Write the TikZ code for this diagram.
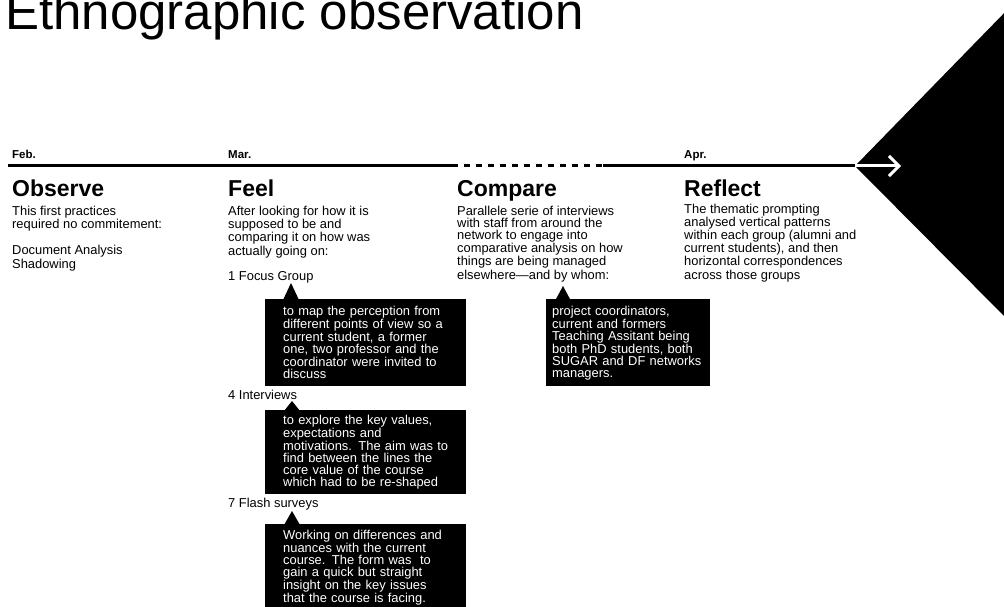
\documentclass[tikz,border=0pt]{standalone}
\usepackage{fontspec}
\setmainfont{Liberation Sans}
\usetikzlibrary{arrows.meta}
\begin{document}
\begin{tikzpicture}[x=1pt,y=-1pt,
  titlestyle/.style={anchor=base west, inner sep=0pt, font=\fontsize{51}{55}\selectfont},
  month/.style={anchor=base west, inner sep=0pt, font=\fontsize{11.5}{12}\selectfont\bfseries},
  heading/.style={anchor=base west, inner sep=0pt, font=\fontsize{23}{26}\selectfont\bfseries},
  body/.style={anchor=base west, inner sep=0pt, align=left, font=\fontsize{12.9}{12}\selectfont},
  callout/.style={anchor=north west, fill=black, text=white, align=left, inner xsep=18pt, inner ysep=0pt, text width=165pt, minimum height=87pt, font=\fontsize{12.9}{12}\selectfont},
  pointer/.style={fill=black},
  timeline/.style={line width=3pt},
]
\useasboundingbox (0,0) rectangle (1004,607);
\clip (0,0) rectangle (1004,607);

% title
\node[titlestyle] (title) at (5,30) {Ethnographic observation};

% timeline
\coordinate (tlstart) at (8,166);
\coordinate (dashA) at (458,166);
\coordinate (dashB) at (603,166);
\coordinate (apex) at (855,166);
\coordinate (arrowtip) at (901,166);
\draw[timeline] (tlstart) -- (dashA);
\draw[timeline, dash pattern=on 6pt off 6pt, dash phase=6pt] (dashA) -- (dashB);
\draw[timeline] (dashB) -- (apex);

% black wedge and white arrow
\fill (apex) -- (1012,5) -- (1012,324) -- cycle;
\draw[white, line width=3pt, -{Straight Barb[length=10pt, width=20pt]}] (apex) -- (arrowtip);

% months
\node[month] (feb) at (12,159) {Feb.};
\node[month] (mar) at (228,159) {Mar.};
\node[month] (apr) at (684,159) {Apr.};

% headings
\node[heading] (observe) at (12,196) {Observe};
\node[heading] (feel) at (228,196) {Feel};
\node[heading] (compare) at (457,196) {Compare};
\node[heading] (reflect) at (684,196) {Reflect};

% column texts (base anchor = baseline of the last line)
\node[body] (obstext) at (12,268) {This first practices\\required no commitement:\\[13pt]Document Analysis\\Shadowing};
\node[body] (feeltext) at (228,255) {After looking for how it is\\supposed to be and\\comparing it on how was\\actually going on:};
\node[body] (comptext) at (457,279) {Parallele serie of interviews\\with staff from around the\\network to engage into\\comparative analysis on how\\things are being managed\\elsewhere—and by whom:};
\node[body] (refltext) at (684,279) {The thematic prompting\\analysed vertical patterns\\within each group (alumni and\\current students), and then\\horizontal correspondences\\across those groups};

% Feel items
\node[body] (item1) at (228,280) {1 Focus Group};
\node[callout] (box1) at (265,299) {to map the perception from\\different points of view so a\\current student, a former\\one, two professor and the\\coordinator were invited to\\discuss};
\node[body] (item2) at (228,399) {4 Interviews};
\node[callout, minimum height=84pt] (box2) at (265,410) {to explore the key values,\\expectations and\\motivations. The aim was to\\find between the lines the\\core value of the course\\which had to be re-shaped};
\node[body] (item3) at (228,507) {7 Flash surveys};
\node[callout] (box3) at (265,524) {Working on differences and\\nuances with the current\\course. The form was~ to\\gain a quick but straight\\insight on the key issues\\that the course is facing.};

% Compare box
\node[callout, inner xsep=6pt, text width=152pt] (box4) at (546,299) {project coordinators,\\current and formers\\Teaching Assitant being\\both PhD students, both\\\mbox{SUGAR and DF networks}\\managers.};

% pointers
\coordinate (tip1) at (291,283);
\coordinate (tip2) at (292,401);
\coordinate (tip3) at (292,511);
\coordinate (tip4) at (563,286);
\fill[pointer] (tip1) -- ([xshift=-8pt,yshift=-1pt]tip1 |- box1.north) -- ([xshift=8pt,yshift=-1pt]tip1 |- box1.north) -- cycle;
\fill[pointer] (tip2) -- ([xshift=-8pt,yshift=-1pt]tip2 |- box2.north) -- ([xshift=8pt,yshift=-1pt]tip2 |- box2.north) -- cycle;
\fill[pointer] (tip3) -- ([xshift=-8pt,yshift=-1pt]tip3 |- box3.north) -- ([xshift=8pt,yshift=-1pt]tip3 |- box3.north) -- cycle;
\fill[pointer] (tip4) -- ([xshift=-7.5pt,yshift=-1pt]tip4 |- box4.north) -- ([xshift=7.5pt,yshift=-1pt]tip4 |- box4.north) -- cycle;
\end{tikzpicture}
\end{document}
